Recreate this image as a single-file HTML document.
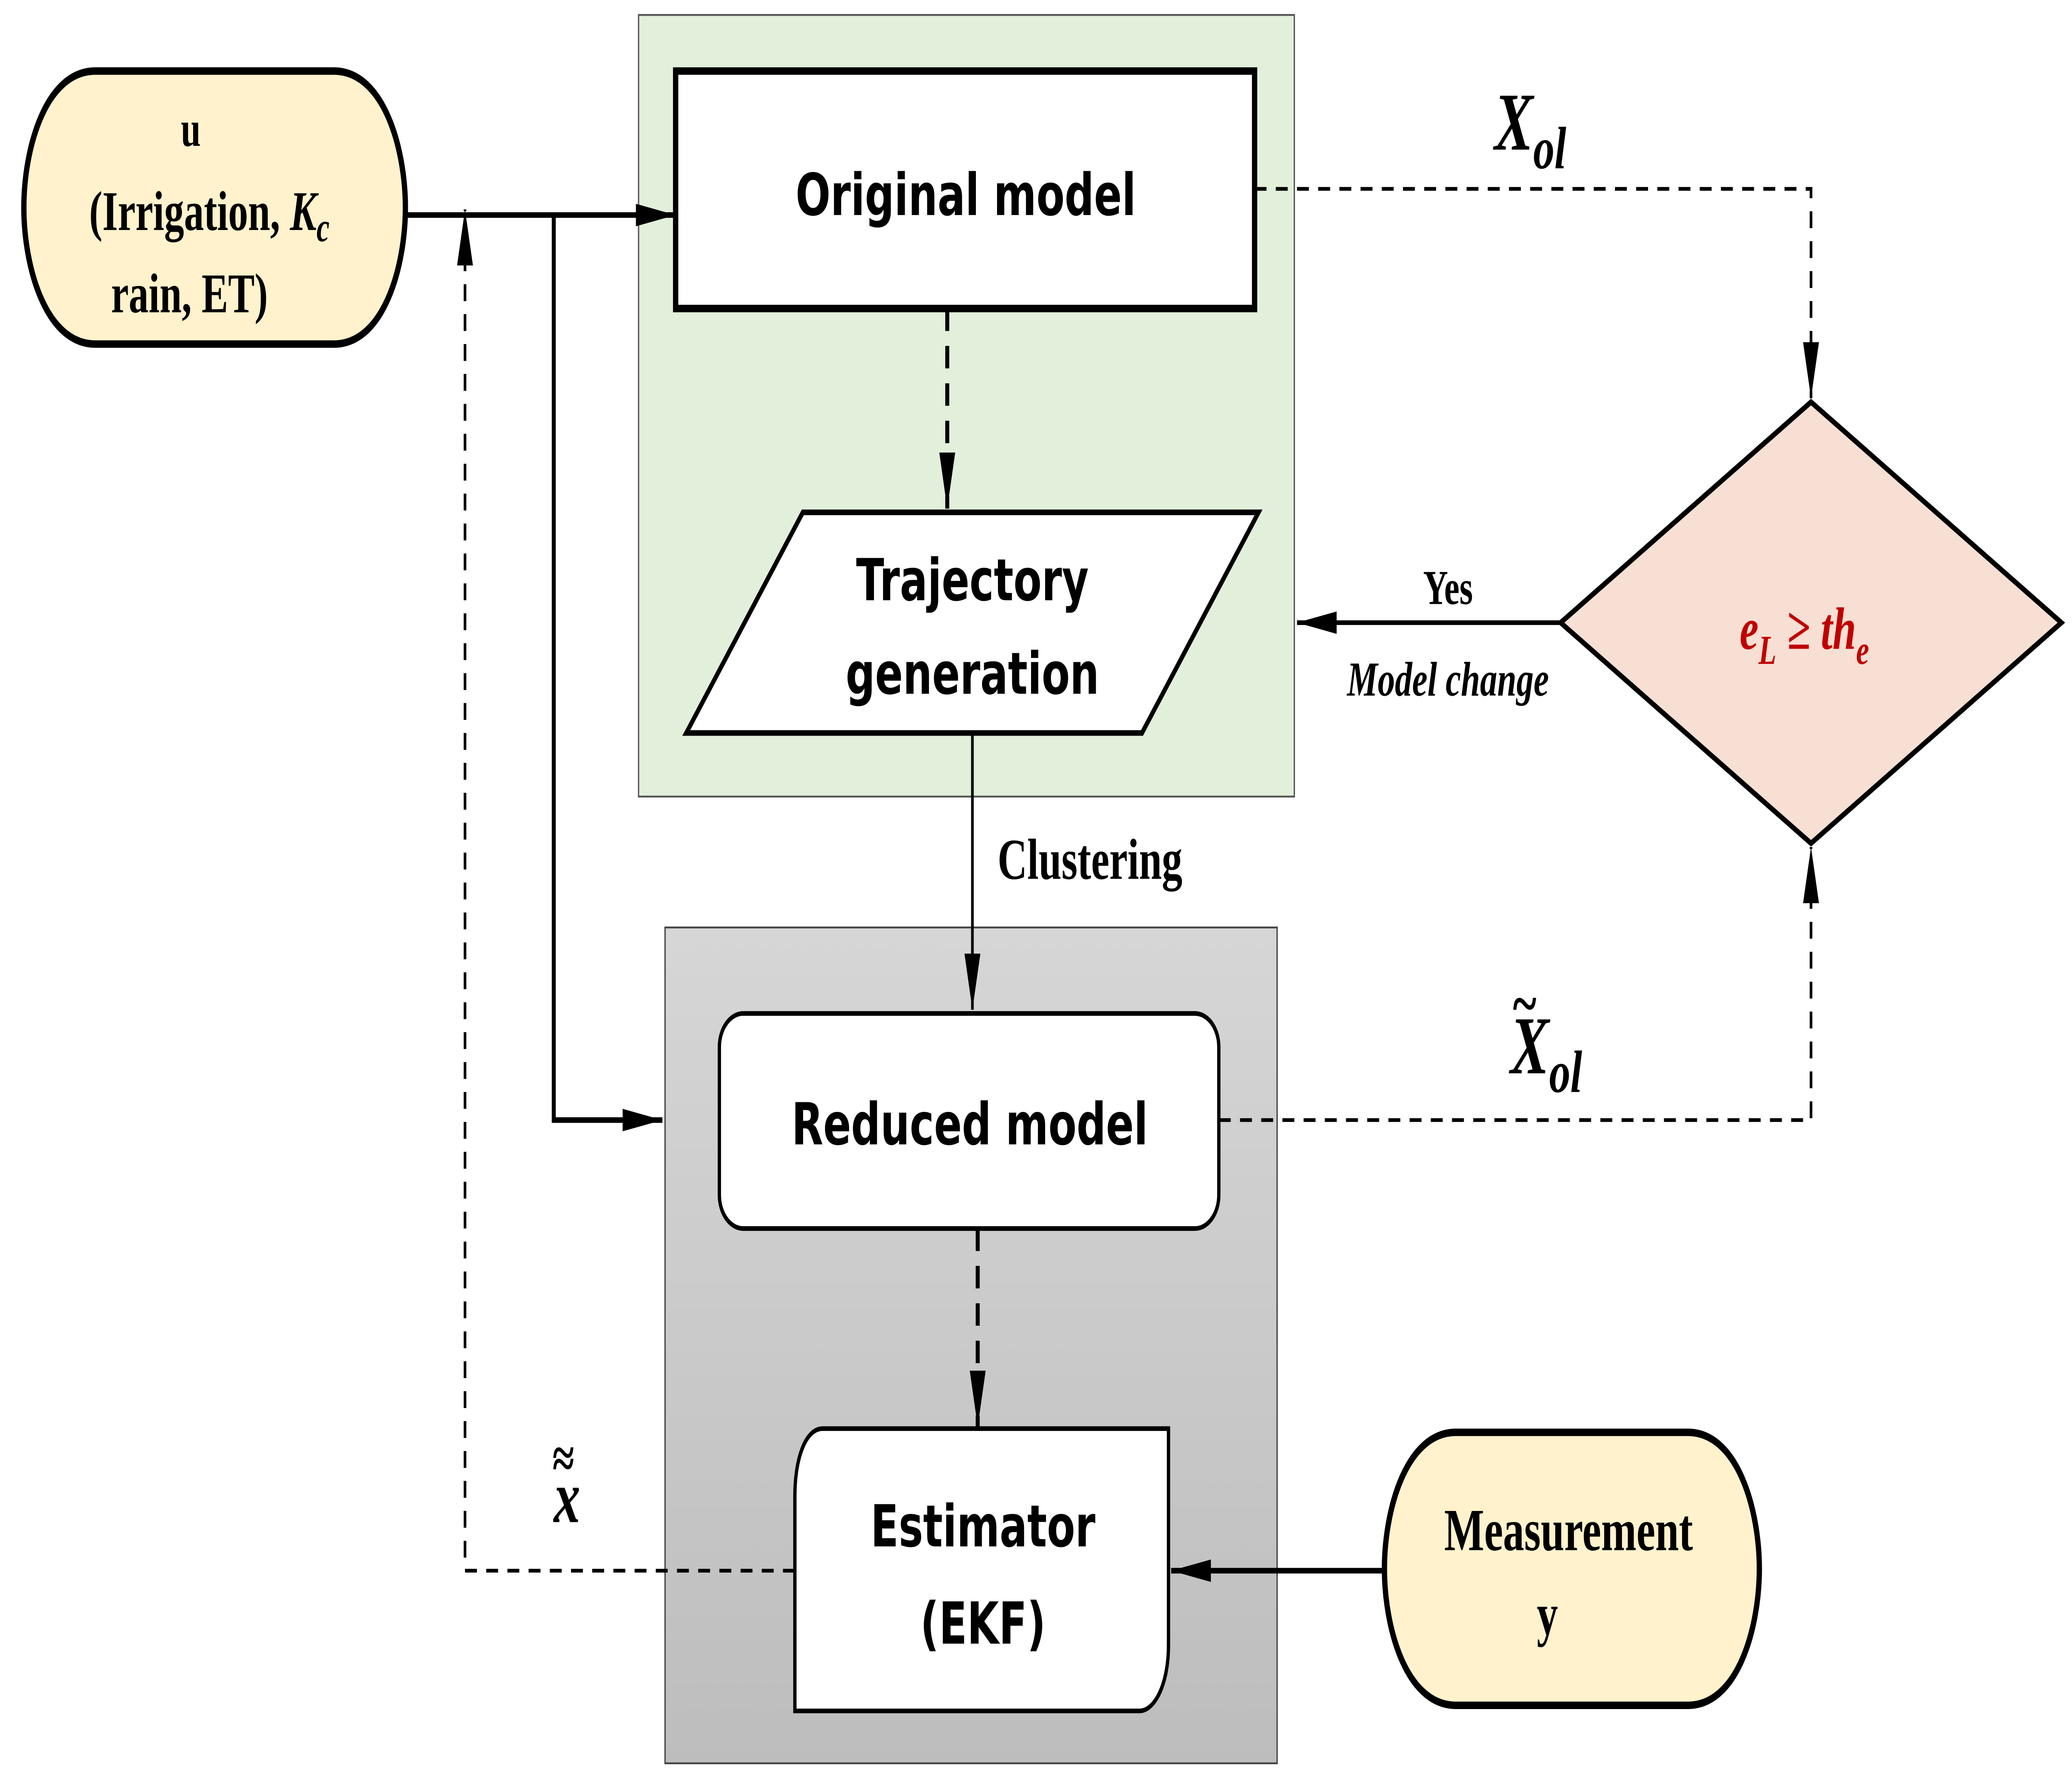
<!DOCTYPE html>
<html><head><meta charset="utf-8"><style>
html,body{margin:0;padding:0;background:#fff;width:100%;height:100%;overflow:hidden;}
svg{display:block;width:100vw;height:100vh;}
.sans{font-family:"DejaVu Sans","Liberation Sans",sans-serif;font-weight:bold;}
.serif{font-family:"Liberation Serif","DejaVu Serif",serif;font-weight:bold;}
</style></head><body>
<svg viewBox="0 0 1564 953" preserveAspectRatio="none" xmlns="http://www.w3.org/2000/svg">
<defs>
<linearGradient id="g" x1="0" y1="0" x2="0" y2="1"><stop offset="0" stop-color="#d6d6d6"/><stop offset="1" stop-color="#bdbdbd"/></linearGradient>
<marker id="a" viewBox="0 0 30 12" refX="30" refY="6" markerWidth="30" markerHeight="12" markerUnits="userSpaceOnUse" orient="auto"><path d="M0,0 L30,6 L0,12 Z" fill="#000"/></marker>
</defs>
<rect x="0" y="0" width="1564" height="953" fill="#fff"/>
<rect x="482" y="8" width="495" height="418" fill="#e2efda" stroke="#555" stroke-width="1"/>
<rect x="502" y="496" width="462" height="447" fill="url(#g)" stroke="#444" stroke-width="1"/>
<path d="M72,38 L252,38 C290,38 306,80 306,111 C306,142 290,184 252,184 L72,184 C34,184 18,142 18,111 C18,80 34,38 72,38 Z" fill="#fff2cc" stroke="#000" stroke-width="4"/>
<text class="serif" x="144" y="78" font-size="27" text-anchor="middle">u</text>
<text class="serif" x="158" y="123" font-size="30" text-anchor="middle">(Irrigation, <tspan font-style="italic">K<tspan font-size="22" dy="6">c</tspan></tspan></text>
<text class="serif" x="143" y="167" font-size="30" text-anchor="middle">rain, ET)</text>
<path d="M1099,766 L1274,766 C1312,766 1328,808 1328,839 C1328,870 1312,912 1274,912 L1099,912 C1061,912 1045,870 1045,839 C1045,808 1061,766 1099,766 Z" fill="#fff2cc" stroke="#000" stroke-width="4"/>
<text class="serif" x="1184" y="829" font-size="32" text-anchor="middle">Measurement</text>
<text class="serif" x="1168" y="874" font-size="32" text-anchor="middle">y</text>
<rect x="510" y="38" width="437" height="127" fill="#fff" stroke="#000" stroke-width="4"/>
<text class="sans" x="729" y="115" font-size="31" text-anchor="middle">Original model</text>
<polygon points="606,274 950,274 862,392 518,392" fill="#fff" stroke="#000" stroke-width="3"/>
<text class="sans" x="734" y="321" font-size="31" text-anchor="middle">Trajectory</text>
<text class="sans" x="734" y="371" font-size="31" text-anchor="middle">generation</text>
<rect x="543" y="542" width="377" height="115" rx="18" fill="#fff" stroke="#000" stroke-width="2.5"/>
<text class="sans" x="732" y="612" font-size="31" text-anchor="middle">Reduced model</text>
<path d="M621,764 L882,764 L882,880 C882,900 872,915 860,915 L600,915 L600,800 C600,780 608,764 621,764 Z" fill="#fff" stroke="#000" stroke-width="2.5"/>
<text class="sans" x="742" y="827" font-size="31" text-anchor="middle">Estimator</text>
<text class="sans" x="742" y="879" font-size="31" text-anchor="middle">(EKF)</text>
<polygon points="1367,215 1556,333 1367,451 1178,333" fill="#f8dfd3" stroke="#000" stroke-width="3"/>
<text class="serif" x="1362" y="347" font-size="32" font-style="italic" fill="#c00000" text-anchor="middle">e<tspan font-size="22" dy="8">L</tspan><tspan dy="-8"> ≥ th</tspan><tspan font-size="22" dy="8">e</tspan></text>
<path d="M306,115 L510,115" stroke="#000" stroke-width="3" fill="none" marker-end="url(#a)"/>
<path d="M418,115 L418,599 L500,599" stroke="#000" stroke-width="3" fill="none" marker-end="url(#a)"/>
<path d="M600,840 L351,840 L351,112" stroke="#000" stroke-width="2" stroke-dasharray="9,7" fill="none" marker-end="url(#a)"/>
<path d="M947,101 L1367,101 L1367,213" stroke="#000" stroke-width="2" stroke-dasharray="9,7" fill="none" marker-end="url(#a)"/>
<path d="M920,599 L1367,599 L1367,453" stroke="#000" stroke-width="2" stroke-dasharray="9,7" fill="none" marker-end="url(#a)"/>
<path d="M1178,333 L979,333" stroke="#000" stroke-width="2.5" fill="none" marker-end="url(#a)"/>
<path d="M734,392 L734,540" stroke="#000" stroke-width="2" fill="none" marker-end="url(#a)"/>
<path d="M715,165 L715,272" stroke="#000" stroke-width="3" stroke-dasharray="12,8" fill="none" marker-end="url(#a)"/>
<path d="M738,657 L738,763" stroke="#000" stroke-width="3" stroke-dasharray="12,8" fill="none" marker-end="url(#a)"/>
<path d="M1045,840 L884,840" stroke="#000" stroke-width="3" fill="none" marker-end="url(#a)"/>
<text class="serif" x="1128" y="80" font-size="44" font-style="italic">X<tspan font-size="32" dy="10">ol</tspan></text>
<text class="serif" x="1140" y="574" font-size="44" font-style="italic">X<tspan font-size="32" dy="10">ol</tspan></text>
<text class="serif" x="1142" y="548" font-size="34">~</text>
<text class="serif" x="1093" y="323" font-size="26" text-anchor="middle">Yes</text>
<text class="serif" x="1093" y="372" font-size="26" font-style="italic" text-anchor="middle">Model change</text>
<text class="serif" x="753" y="470" font-size="31">Clustering</text>
<text class="serif" x="418" y="814" font-size="40" font-style="italic">x</text>
<text class="serif" x="417" y="790" font-size="30">≈</text>
</svg>
</body></html>
